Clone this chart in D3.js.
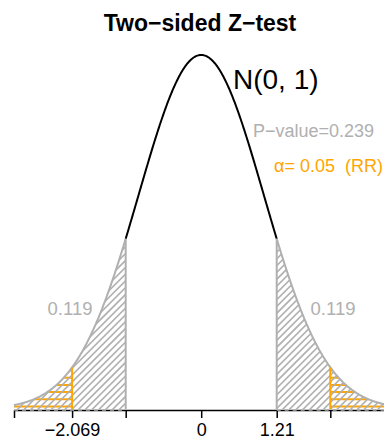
<!DOCTYPE html>
<html><head><meta charset="utf-8">
<script src="https://cdn.jsdelivr.net/npm/d3@7"></script>
<style>body{margin:0;background:#fff}svg{display:block}text{font-family:"Liberation Sans",Arial,Helvetica,sans-serif}</style>
</head><body><svg id="c" width="384" height="441"></svg>
<script>
// ---- data ----
const distMean = 0, distSd = 1;
const zObserved = 1.21;          // observed statistic
const zCritical = 2.069;          // rejection region boundary
const pValue = 0.239;
const tailArea = 0.119;
const alpha = 0.05;
const xDomain = [-3, 3];
const tickValues = [-3, -2.069, -1.21, 0, 1.21, 2.069, 3];
const tickLabels = ["", "\u22122.069", "", "0", "1.21", "", ""];

const gray = "#b0b0b0", orange = "#FFA500";
const svg = d3.select("#c");
const x = d3.scaleLinear().domain(xDomain).range([14, 388.4]);
const y = d3.scaleLinear().domain([0, 0.4]).range([409, 54]);
const dens = z => Math.exp(-0.5 * ((z - distMean) / distSd) ** 2) / (distSd * Math.sqrt(2 * Math.PI));
const pts = (a, b) => d3.range(0, 201).map(i => a + (b - a) * i / 200);
const line = d3.line().x(d => x(d)).y(d => y(dens(d)));
const area = d3.area().x(d => x(d)).y0(y(0)).y1(d => y(dens(d)));

const defs = svg.append("defs");
function region(id, a, b) {
  defs.append("clipPath").attr("id", id).append("path").attr("d", area(pts(a, b)));
}
region("lt", xDomain[0], -zObserved);
region("rt", zObserved, xDomain[1]);
region("lo", xDomain[0], -zCritical);
region("ro", zCritical, xDomain[1]);

// orange horizontal hatching in RR
["lo", "ro"].forEach(id => {
  svg.append("g").attr("clip-path", `url(#${id})`).selectAll("line")
    .data(d3.range(0, 12)).join("line")
    .attr("x1", 0).attr("x2", 384)
    .attr("y1", d => y(0) - 2.5 - d * 7.2).attr("y2", d => y(0) - 2.5 - d * 7.2)
    .attr("stroke", orange).attr("stroke-width", 2);
});
// gray diagonal hatching
["lt", "rt"].forEach(id => {
  svg.append("g").attr("clip-path", `url(#${id})`).selectAll("line")
    .data(d3.range(-60, 60)).join("line")
    .attr("x1", d => d * 6.8).attr("y1", 420)
    .attr("x2", d => d * 6.8 + 400).attr("y2", 20)
    .attr("stroke", gray).attr("stroke-width", 1.6);
});

// axis
const axis = d3.axisBottom(x).tickValues(tickValues).tickFormat((d, i) => tickLabels[i]).tickSize(8).tickPadding(5);
const ga = svg.append("g").attr("transform", "translate(0,410)").call(axis);
ga.select(".domain").attr("d", `M${x(-3)},0.5H${x(3)}`).attr("stroke", "#000").attr("stroke-width", 1.5);
ga.selectAll(".tick line").attr("stroke", "#000").attr("stroke-width", 1.5);
ga.selectAll(".tick text").attr("font-size", 18).attr("fill", "#000")
  .attr("font-family", '"Liberation Sans",Arial,sans-serif');

// baseline dashes under shaded regions
[[xDomain[0], -zObserved], [zObserved, xDomain[1]]].forEach(([a, b]) => {
  svg.append("line").attr("x1", x(a)).attr("x2", x(b)).attr("y1", 410).attr("y2", 410)
    .attr("stroke", gray).attr("stroke-width", 1.5).attr("stroke-dasharray", "4,4");
});

// curve tails (gray) and middle (black)
svg.append("path").attr("d", line(pts(xDomain[0], -zObserved))).attr("fill", "none").attr("stroke", gray).attr("stroke-width", 2);
svg.append("path").attr("d", line(pts(zObserved, xDomain[1]))).attr("fill", "none").attr("stroke", gray).attr("stroke-width", 2);
svg.append("path").attr("d", line(pts(-zObserved, zObserved))).attr("fill", "none").attr("stroke", "#000").attr("stroke-width", 2);

// vertical boundaries
[-zObserved, zObserved].forEach(z => svg.append("line").attr("x1", x(z)).attr("x2", x(z))
  .attr("y1", y(0)).attr("y2", y(dens(z))).attr("stroke", gray).attr("stroke-width", 2));
[-zCritical, zCritical].forEach(z => svg.append("line").attr("x1", x(z)).attr("x2", x(z))
  .attr("y1", y(0)).attr("y2", y(dens(z))).attr("stroke", orange).attr("stroke-width", 2));

// texts
svg.append("text").attr("x", 200).attr("y", 31).attr("text-anchor", "middle")
  .attr("font-size", 23).attr("font-weight", "bold").text("Two\u2212sided Z\u2212test");
svg.append("text").attr("x", 233).attr("y", 89).attr("font-size", 28).text(`N(${distMean}, ${distSd})`);
svg.append("text").attr("x", 374).attr("y", 137).attr("text-anchor", "end").attr("font-size", 18)
  .attr("fill", gray).text(`P\u2212value=${pValue}`);
svg.append("text").attr("x", 383).attr("y", 172).attr("text-anchor", "end").attr("font-size", 18)
  .attr("fill", orange).attr("xml:space", "preserve").text(`\u03B1= ${alpha.toFixed(2)}  (RR)`);
svg.append("text").attr("x", 70).attr("y", 315).attr("text-anchor", "middle").attr("font-size", 18.5)
  .attr("fill", gray).text(tailArea);
svg.append("text").attr("x", 333).attr("y", 315).attr("text-anchor", "middle").attr("font-size", 18.5)
  .attr("fill", gray).text(tailArea);
</script></body></html>
